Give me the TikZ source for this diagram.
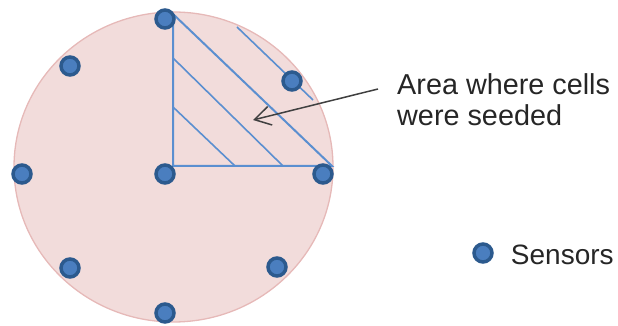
\documentclass[tikz,border=0pt]{standalone}
\usepackage{fontspec}
\setmainfont{Liberation Sans}
\usetikzlibrary{arrows.meta, positioning, calc}
\definecolor{diskpink}{HTML}{F2DCDB}
\definecolor{diskedge}{HTML}{E6B9B8}
\definecolor{sensorring}{HTML}{2C5A8E}
\definecolor{sensorfill}{HTML}{4A7EBF}
\definecolor{seedblue}{HTML}{5B8FD0}
\definecolor{notegray}{HTML}{404040}

\begin{document}
\begin{tikzpicture}[x=1pt, y=1pt, font=\fontsize{28}{31}\selectfont, >={Straight Barb[length=16pt, width=19pt]},
    sensor/.style={circle, draw=sensorring, fill=sensorfill, line width=3.5pt,
                   minimum size=18pt, inner sep=0pt},
    seedline/.style={seedblue, line width=1.6pt}]
  \useasboundingbox (0,0) rectangle (618,326);

  % dish
  \draw[diskedge, fill=diskpink, line width=1.3pt] (173.5,159) ellipse [x radius=159.5, y radius=155];

  % seeded region
  \coordinate (apex) at (173,312);
  \coordinate (corner) at (173,160);
  \coordinate (rim) at (332,160);
  \draw[seedline, line width=2pt] (apex) -- (corner) -- (rim) -- cycle;
  \draw[seedline] (173,268) -- (283,160);
  \draw[seedline] (173,219) -- (235,160);
  \draw[seedline] (237,299) -- (313,226);

  % sensors
  \node[sensor] (s-top) at (165,307) {};
  \node[sensor] (s-mid) at (165,152) {};
  \node[sensor] (s-left) at (22,152) {};
  \node[sensor] (s-right) at (323,152) {};
  \node[sensor] (s-bot) at (165,13) {};
  \node[sensor] (s-ul) at (70,260) {};
  \node[sensor] (s-ur) at (292,245) {};
  \node[sensor] (s-ll) at (70,58) {};
  \node[sensor] (s-lr) at (277,59) {};

  % labels
  \node[anchor=base west, align=left, inner sep=0pt, text=black!85,
        font=\fontsize{28.8}{31}\selectfont] (note) at (397,200)
        {Area where cells\\were seeded};
  \coordinate (seedpt) at (253,206);
  \draw[->, notegray, line width=1.5pt] ($(note.base west)+(-19,37)$) -- (seedpt);

  \node[sensor] (key) at (483,73) {};
  \node[anchor=base west, inner sep=0pt, text=black!85] (keytext) at ($(key.east)+(17,-12)$)
        {Sensors};
\end{tikzpicture}
\end{document}
